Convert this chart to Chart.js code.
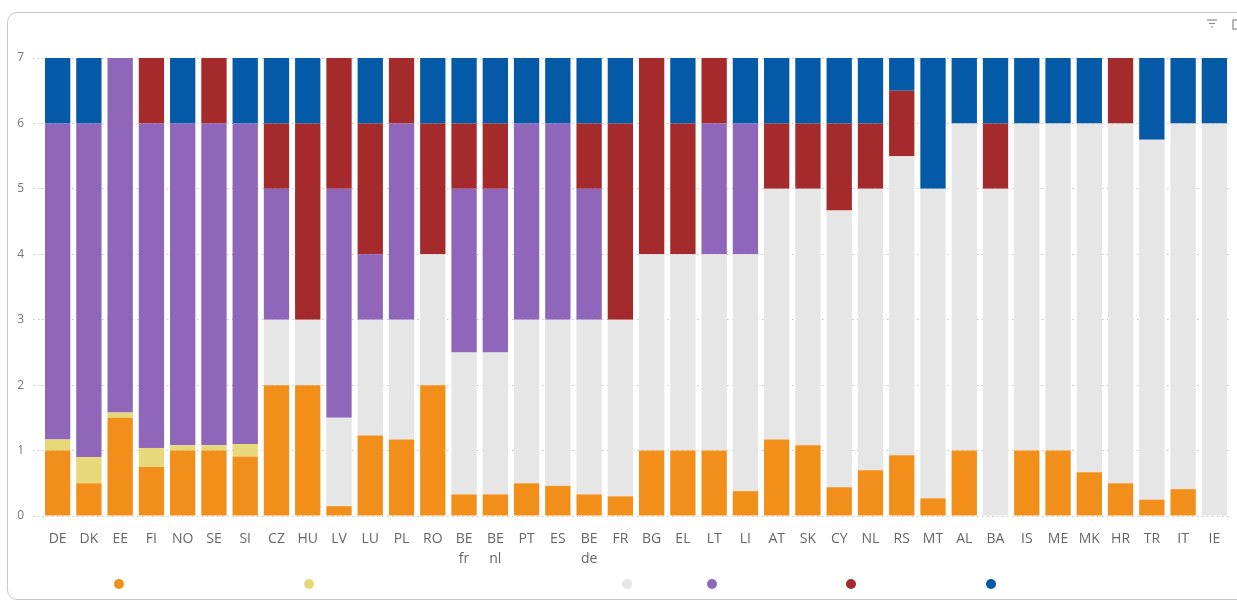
<!DOCTYPE html>
<html lang="en">
<head>
  <meta charset="UTF-8" />
  <title>Stacked bars</title>
  <script src="https://cdn.jsdelivr.net/npm/chart.js"></script>
  <style>
    html, body {
      margin: 0;
      padding: 0;
      background: #ffffff;
      overflow: hidden;
    }
    #wrap {
      position: relative;
      width: 1237px;
      height: 603px;
    }
    /* card frame */
    .frame {
      position: absolute;
      left: 7px;
      top: 12px;
      width: 1260px;
      height: 588px;
      border: 1.5px solid #c9c9c9;
      border-radius: 10px;
      box-sizing: border-box;
    }
    canvas {
      position: absolute;
      left: 0;
      top: 0;
    }
    .dot {
      position: absolute;
      top: 579px;
      width: 10px;
      height: 10px;
      border-radius: 50%;
    }
    .icons {
      position: absolute;
      top: 17px;
      left: 1205px;
    }
  </style>
</head>
<body>
  <div id="wrap">
    <div class="frame"></div>
    <canvas id="chart" width="1237" height="603"></canvas>
    <div id="legend"></div>
    <svg class="icons" width="40" height="14">
      <g stroke="#8a8a8a" stroke-width="1.2">
        <line x1="2" y1="3" x2="12" y2="3" />
        <line x1="4" y1="6.5" x2="10" y2="6.5" />
        <line x1="6" y1="10" x2="8" y2="10" />
      </g>
      <rect x="28" y="3" width="8" height="9" fill="none" stroke="#8a8a8a" stroke-width="1.2" />
    </svg>
  </div>

  <script>
    // categories
    const countries = ['DE', 'DK', 'EE', 'FI', 'NO', 'SE', 'SI', 'CZ', 'HU', 'LV', 'LU', 'PL', 'RO',
      ['BE', 'fr'], ['BE', 'nl'], 'PT', 'ES', ['BE', 'de'], 'FR', 'BG', 'EL', 'LT', 'LI', 'AT', 'SK',
      'CY', 'NL', 'RS', 'MT', 'AL', 'BA', 'IS', 'ME', 'MK', 'HR', 'TR', 'IT', 'IE'];

    // series values (bottom to top)
    const orangeVals = [1, 0.5, 1.5, 0.75, 1, 1, 0.91, 2, 2, 0.15, 1.23, 1.17, 2,
      0.33, 0.33, 0.5, 0.46, 0.33, 0.3, 1, 1, 1, 0.38, 1.17, 1.08,
      0.44, 0.7, 0.93, 0.27, 1, 0, 1, 1, 0.67, 0.5, 0.25, 0.41, 0];
    const yellowVals = [0.17, 0.4, 0.08, 0.29, 0.08, 0.08, 0.19, 0, 0, 0, 0, 0, 0,
      0, 0, 0, 0, 0, 0, 0, 0, 0, 0, 0, 0,
      0, 0, 0, 0, 0, 0, 0, 0, 0, 0, 0, 0, 0];
    const greyVals = [0, 0, 0, 0, 0, 0, 0, 1, 1, 1.35, 1.77, 1.83, 2,
      2.17, 2.17, 2.5, 2.54, 2.67, 2.7, 3, 3, 3, 3.62, 3.83, 3.92,
      4.23, 4.3, 4.57, 4.73, 5, 5, 5, 5, 5.33, 5.5, 5.5, 5.59, 6];
    const purpleVals = [4.83, 5.1, 5.42, 4.96, 4.92, 4.92, 4.9, 2, 0, 3.5, 1, 3, 0,
      2.5, 2.5, 3, 3, 2, 0, 0, 0, 2, 2, 0, 0,
      0, 0, 0, 0, 0, 0, 0, 0, 0, 0, 0, 0, 0];
    const redVals = [0, 0, 0, 1, 0, 1, 0, 1, 3, 2, 2, 1, 2,
      1, 1, 0, 0, 1, 3, 3, 2, 1, 0, 1, 1,
      1.33, 1, 1, 0, 0, 1, 0, 0, 0, 1, 0, 0, 0];
    const blueVals = [1, 1, 0, 0, 1, 0, 1, 1, 1, 0, 1, 0, 1,
      1, 1, 1, 1, 1, 1, 0, 1, 0, 1, 1, 1,
      1, 1, 0.5, 2, 1, 1, 1, 1, 1, 0, 1.25, 1, 1];

    const yTicks = [0, 1, 2, 3, 4, 5, 6, 7];

    const seriesNames = ['Series 1', 'Series 2', 'Series 3', 'Series 4', 'Series 5', 'Series 6'];
    const seriesValues = [orangeVals, yellowVals, greyVals, purpleVals, redVals, blueVals];
    const seriesColors = ['#F18F1A', '#E7D87A', '#E6E6E6', '#9066BB', '#A42A2C', '#045AA7'];
    const legendLeft = [114, 304, 622, 707, 846, 986];

    const datasets = seriesNames.map((name, i) => ({
      label: name,
      data: seriesValues[i],
      backgroundColor: seriesColors[i],
      borderWidth: 0,
      categoryPercentage: 1,
      barPercentage: 0.81,
    }));

    const fontFamily = "'Open Sans', sans-serif";

    new Chart(document.getElementById('chart').getContext('2d'), {
      type: 'bar',
      data: { labels: countries, datasets },
      options: {
        responsive: false,
        animation: false,
        layout: { padding: { top: 58, right: 7, bottom: 0, left: 0 } },
        plugins: {
          legend: { display: false },
          tooltip: { enabled: false },
        },
        scales: {
          x: {
            stacked: true,
            grid: { display: false },
            border: { display: false },
            ticks: {
              color: '#666666',
              padding: 5,
              maxRotation: 0,
              autoSkip: false,
              font: { family: fontFamily, size: 14, lineHeight: 1.45 },
            },
            afterFit: (scale) => { scale.height = 87; },
          },
          y: {
            stacked: true,
            min: 0,
            max: 7,
            afterBuildTicks: (scale) => { scale.ticks = yTicks.map(v => ({ value: v })); },
            grid: {
              color: '#c4c4c4',
              borderDash: [1.5, 3.5],
              tickBorderDash: [1.5, 3.5],
              tickColor: '#c4c4c4',
              tickLength: 9,
            },
            border: { display: false, dash: [1.5, 3.5] },
            ticks: {
              color: '#777777',
              padding: 9,
              font: { family: fontFamily, size: 12 },
            },
            afterFit: (scale) => { scale.width = 42; },
          },
        },
      },
    });

    // legend dots only, labels are not shown in the source
    const legend = document.getElementById('legend');
    seriesColors.forEach((c, i) => {
      const d = document.createElement('div');
      d.className = 'dot';
      d.style.left = legendLeft[i] + 'px';
      d.style.background = c;
      legend.appendChild(d);
    });
  </script>
</body>
</html>
